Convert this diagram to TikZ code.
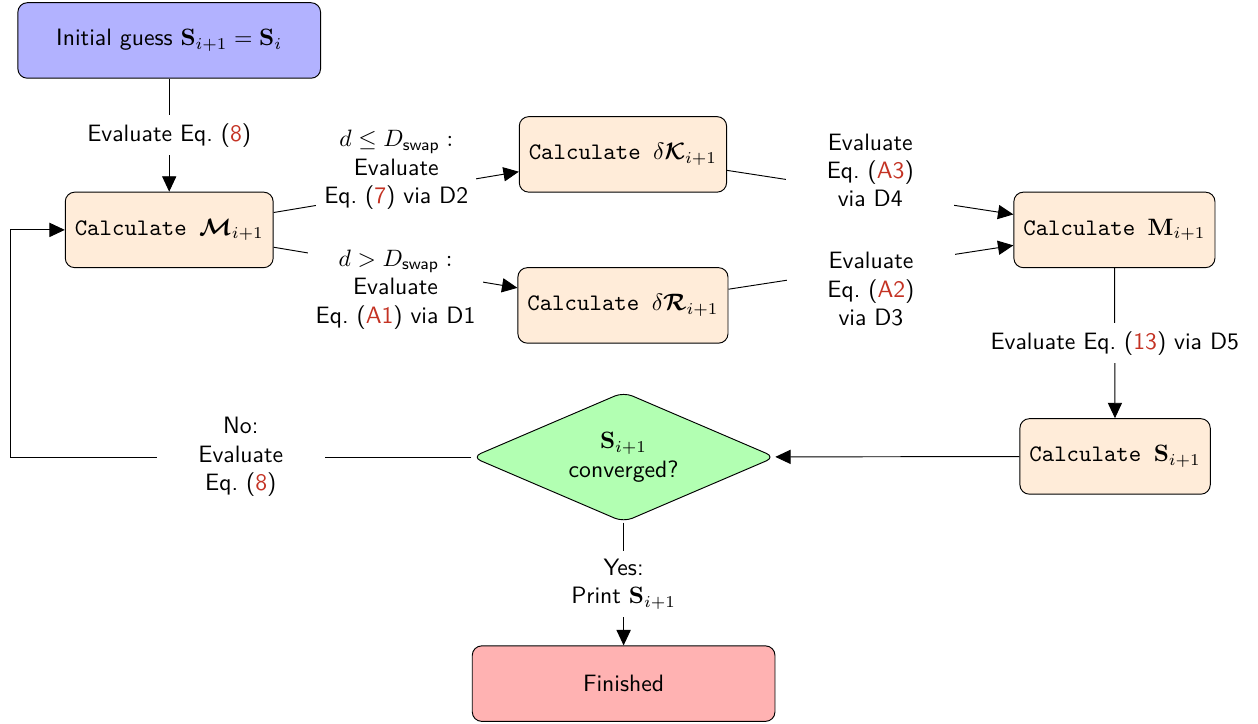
\documentclass[tikz,border=0pt]{standalone}
\usepackage{amsmath,amssymb,bm}
\usetikzlibrary{arrows.meta, shapes.geometric}
\renewcommand{\familydefault}{\sfdefault}
\definecolor{eqred}{RGB}{196,50,35}
\newcommand{\eqlink}[1]{Eq.~(\textcolor{eqred}{#1})}

\begin{document}
\begin{tikzpicture}[
    >={Triangle[length=6.5pt, width=6pt]},
    calcbox/.style={draw, rounded corners, fill=orange!15, minimum height=1.12cm, inner xsep=4pt, font=\ttfamily},
    endbox/.style={draw, rounded corners, minimum width=4.49cm, minimum height=1.12cm},
    lbl/.style={fill=white, align=center, text width=2.25cm},
    lblfit/.style={fill=white, align=center},
    lblone/.style={fill=white}
]
\useasboundingbox (0,0) rectangle (18.66,-10.73);
    \node[endbox, fill=blue!30] (init) at (2.51,-0.60) {Initial guess $\mathbf{S}_{i+1} = \mathbf{S}_i$};
    \node[calcbox] (M) at (2.51,-3.41) {Calculate $\boldsymbol{\mathcal{M}}_{i+1}$};
    \node[calcbox] (dK) at (9.24,-2.29) {Calculate $\delta\boldsymbol{\mathcal{K}}_{i+1}$};
    \node[calcbox] (dR) at (9.24,-4.53) {Calculate $\delta\boldsymbol{\mathcal{R}}_{i+1}$};
    \node[calcbox] (M1) at (16.53,-3.41) {Calculate $\mathbf{M}_{i+1}$};
    \node[calcbox] (S) at (16.54,-6.77) {Calculate $\mathbf{S}_{i+1}$};
    \node[draw, diamond, aspect=2.33, rounded corners, fill=green!30, align=center,
          minimum width=4.5cm, minimum height=1.93cm] (conv) at (9.25,-6.78) {$\mathbf{S}_{i+1}$\\converged?};
    \node[endbox, fill=red!30] (fin) at (9.25,-10.14) {Finished};
    \coordinate (loop) at (0.15,-6.78);
% connectors
\draw[->] (init) -- node[lblone] {Evaluate \eqlink{8}} (M);
\draw[->] (M) -- node[lblfit, yshift=9.3pt] {$d \leq D_\text{swap}:$\\Evaluate\\\eqlink{7} via D2} (dK);
\draw[->] (M) -- node[lblfit, yshift=-9.3pt] {$d > D_\text{swap}:$\\Evaluate\\\eqlink{A1} via D1} (dR);
\draw[->] (dK) -- node[lbl, yshift=9.3pt] {Evaluate\\\eqlink{A3}\\via D4} (M1);
\draw[->] (dR) -- node[lbl, yshift=-9.3pt] {Evaluate\\\eqlink{A2}\\via D3} (M1);
\draw[->] (M1) -- node[lblone] {Evaluate \eqlink{13} via D5} (S);
\draw[->] (S) -- (conv);
\draw[->] (conv) -- node[lbl] {Yes:\\Print $\mathbf{S}_{i+1}$} (fin);
\draw[->] (conv) -- node[lbl] {No:\\Evaluate\\\eqlink{8}} (loop) |- (M);
\end{tikzpicture}
\end{document}
